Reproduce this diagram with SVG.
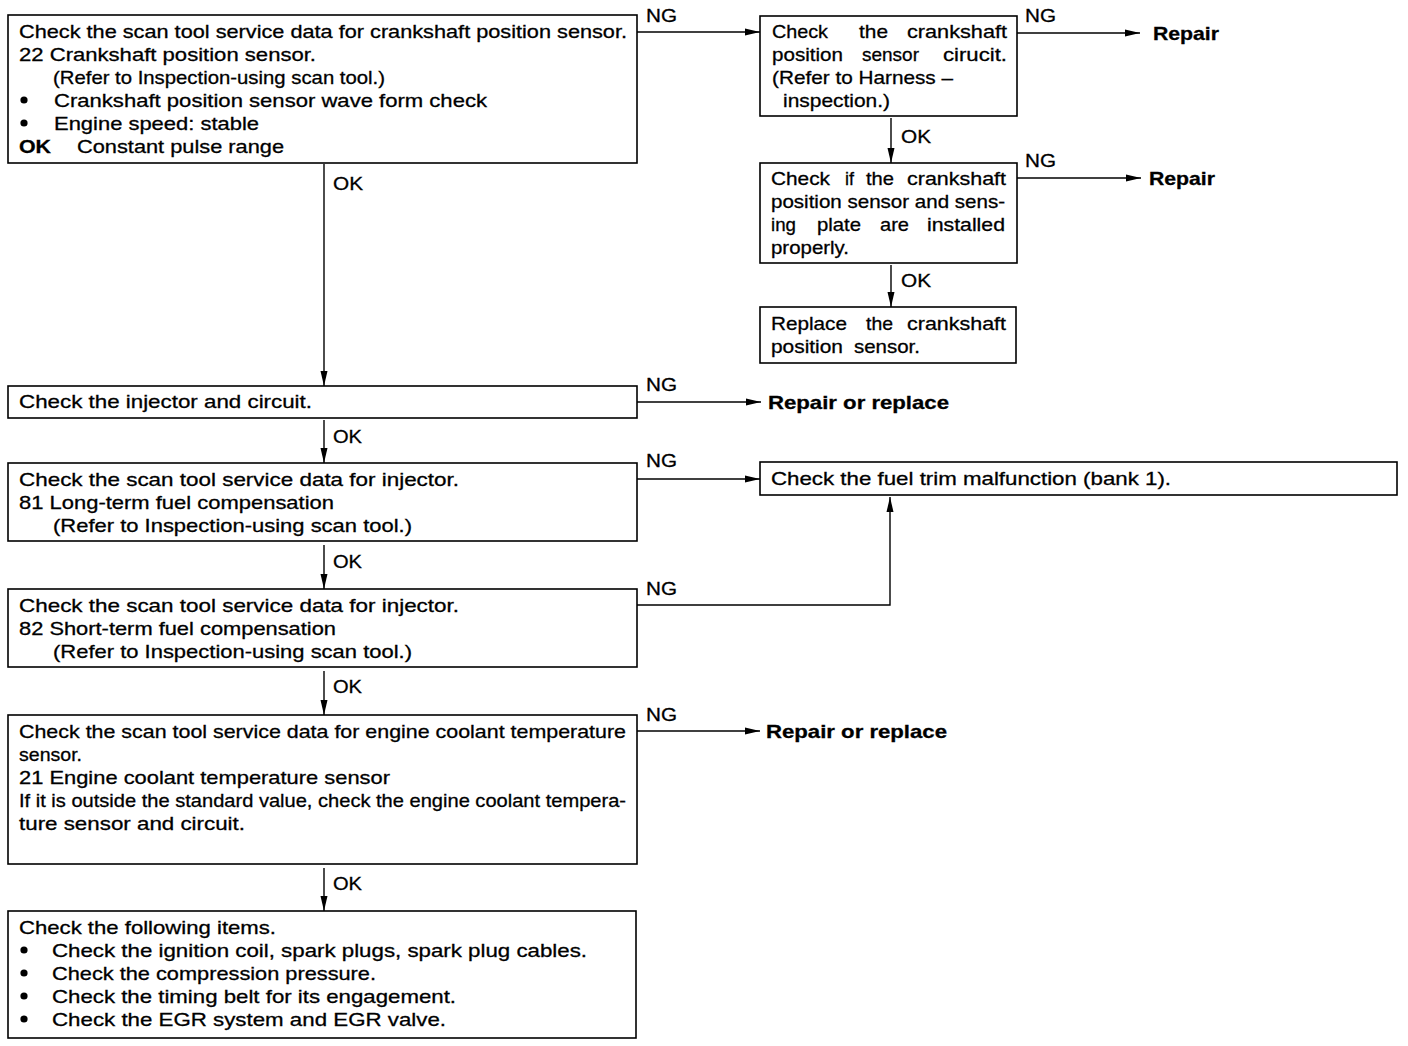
<svg xmlns="http://www.w3.org/2000/svg" width="1408" height="1046" viewBox="0 0 1408 1046">
<defs>
<marker id="ah" markerUnits="userSpaceOnUse" markerWidth="16" markerHeight="8" refX="15" refY="4" orient="auto">
<path d="M0,0.5 L15,4 L0,7.5 Z" fill="#000"/>
</marker>
<style>
rect.box{fill:#fff;stroke:#000;stroke-width:1.6}
text{font-family:"Liberation Sans",Arial,sans-serif;font-size:19px;fill:#000;stroke:#000;stroke-width:0.3}
.b{font-weight:bold}
.c{fill:none;stroke:#000;stroke-width:1.4}
</style>
</defs>
<rect width="1408" height="1046" fill="#fff"/>

<g id="connectors">
<line class="c" x1="637" y1="32" x2="760" y2="32" marker-end="url(#ah)"/>
<line class="c" x1="1017" y1="33" x2="1140" y2="33" marker-end="url(#ah)"/>
<line class="c" x1="891" y1="118" x2="891" y2="163" marker-end="url(#ah)"/>
<line class="c" x1="1017" y1="178" x2="1141" y2="178" marker-end="url(#ah)"/>
<line class="c" x1="891" y1="265" x2="891" y2="307" marker-end="url(#ah)"/>
<line class="c" x1="324" y1="164" x2="324" y2="386" marker-end="url(#ah)"/>
<line class="c" x1="637" y1="402" x2="761" y2="402" marker-end="url(#ah)"/>
<line class="c" x1="324" y1="420" x2="324" y2="463" marker-end="url(#ah)"/>
<line class="c" x1="637" y1="479" x2="760" y2="479" marker-end="url(#ah)"/>
<line class="c" x1="324" y1="545" x2="324" y2="589" marker-end="url(#ah)"/>
<polyline class="c" points="637,605 890,605 890,497" marker-end="url(#ah)"/>
<line class="c" x1="324" y1="671" x2="324" y2="715" marker-end="url(#ah)"/>
<line class="c" x1="637" y1="731" x2="760" y2="731" marker-end="url(#ah)"/>
<line class="c" x1="324" y1="868" x2="324" y2="911" marker-end="url(#ah)"/>
<text x="646" y="22" textLength="31" lengthAdjust="spacingAndGlyphs">NG</text>
<text x="1025" y="22" textLength="31" lengthAdjust="spacingAndGlyphs">NG</text>
<text x="901" y="143" textLength="30" lengthAdjust="spacingAndGlyphs">OK</text>
<text x="1025" y="167" textLength="31" lengthAdjust="spacingAndGlyphs">NG</text>
<text x="901" y="287" textLength="30" lengthAdjust="spacingAndGlyphs">OK</text>
<text x="333" y="190" textLength="30" lengthAdjust="spacingAndGlyphs">OK</text>
<text x="646" y="391" textLength="31" lengthAdjust="spacingAndGlyphs">NG</text>
<text x="333" y="443" textLength="29" lengthAdjust="spacingAndGlyphs">OK</text>
<text x="646" y="467" textLength="31" lengthAdjust="spacingAndGlyphs">NG</text>
<text x="333" y="568" textLength="29" lengthAdjust="spacingAndGlyphs">OK</text>
<text x="646" y="595" textLength="31" lengthAdjust="spacingAndGlyphs">NG</text>
<text x="333" y="693" textLength="29" lengthAdjust="spacingAndGlyphs">OK</text>
<text x="646" y="721" textLength="31" lengthAdjust="spacingAndGlyphs">NG</text>
<text x="333" y="890" textLength="29" lengthAdjust="spacingAndGlyphs">OK</text>
</g>

<g id="n1">
<rect class="box" x="8" y="15" width="629" height="148"/>
<text x="19" y="38" textLength="608" lengthAdjust="spacingAndGlyphs">Check the scan tool service data for crankshaft position sensor.</text>
<text x="19" y="61" textLength="297" lengthAdjust="spacingAndGlyphs">22 Crankshaft position sensor.</text>
<text x="53" y="84" textLength="332" lengthAdjust="spacingAndGlyphs">(Refer to Inspection-using scan tool.)</text>
<circle cx="24" cy="100" r="3.6"/>
<text x="54" y="107" textLength="433" lengthAdjust="spacingAndGlyphs">Crankshaft position sensor wave form check</text>
<circle cx="24" cy="123" r="3.6"/>
<text x="54" y="130" textLength="205" lengthAdjust="spacingAndGlyphs">Engine speed: stable</text>
<text class="b" x="19" y="153" textLength="32" lengthAdjust="spacingAndGlyphs">OK</text>
<text x="77" y="153" textLength="207" lengthAdjust="spacingAndGlyphs">Constant pulse range</text>
</g>

<g id="n2">
<rect class="box" x="760" y="16" width="257" height="100"/>
<text y="38"><tspan x="772" textLength="56" lengthAdjust="spacingAndGlyphs">Check</tspan><tspan x="859" textLength="29" lengthAdjust="spacingAndGlyphs">the</tspan><tspan x="907" textLength="100" lengthAdjust="spacingAndGlyphs">crankshaft</tspan></text>
<text y="61"><tspan x="772" textLength="71" lengthAdjust="spacingAndGlyphs">position</tspan><tspan x="862" textLength="57" lengthAdjust="spacingAndGlyphs">sensor</tspan><tspan x="943" textLength="64" lengthAdjust="spacingAndGlyphs">cirucit.</tspan></text>
<text x="772" y="84" textLength="181" lengthAdjust="spacingAndGlyphs">(Refer to Harness –</text>
<text x="783" y="107" textLength="107" lengthAdjust="spacingAndGlyphs">inspection.)</text>
</g>

<g id="n3">
<rect class="box" x="760" y="163" width="257" height="100"/>
<text y="185"><tspan x="771" textLength="59" lengthAdjust="spacingAndGlyphs">Check</tspan><tspan x="845" textLength="9" lengthAdjust="spacingAndGlyphs">if</tspan><tspan x="866" textLength="28" lengthAdjust="spacingAndGlyphs">the</tspan><tspan x="907" textLength="99" lengthAdjust="spacingAndGlyphs">crankshaft</tspan></text>
<text x="771" y="208" textLength="234" lengthAdjust="spacingAndGlyphs">position sensor and sens-</text>
<text y="231"><tspan x="771" textLength="25" lengthAdjust="spacingAndGlyphs">ing</tspan><tspan x="817" textLength="44" lengthAdjust="spacingAndGlyphs">plate</tspan><tspan x="880" textLength="29" lengthAdjust="spacingAndGlyphs">are</tspan><tspan x="927" textLength="78" lengthAdjust="spacingAndGlyphs">installed</tspan></text>
<text x="771" y="254" textLength="78" lengthAdjust="spacingAndGlyphs">properly.</text>
</g>

<g id="n4">
<rect class="box" x="760" y="307" width="256" height="56"/>
<text y="330"><tspan x="771" textLength="76" lengthAdjust="spacingAndGlyphs">Replace</tspan><tspan x="866" textLength="27" lengthAdjust="spacingAndGlyphs">the</tspan><tspan x="907" textLength="99" lengthAdjust="spacingAndGlyphs">crankshaft</tspan></text>
<text y="353"><tspan x="771" textLength="72" lengthAdjust="spacingAndGlyphs">position</tspan><tspan x="854" textLength="66" lengthAdjust="spacingAndGlyphs">sensor.</tspan></text>
</g>

<g id="r1">
<text class="b" x="1153" y="40" textLength="66" lengthAdjust="spacingAndGlyphs">Repair</text>
</g>
<g id="r2">
<text class="b" x="1149" y="185" textLength="66" lengthAdjust="spacingAndGlyphs">Repair</text>
</g>

<g id="n5">
<rect class="box" x="8" y="386" width="629" height="32"/>
<text x="19" y="408" textLength="293" lengthAdjust="spacingAndGlyphs">Check the injector and circuit.</text>
</g>
<g id="r3">
<text class="b" x="768" y="409" textLength="181" lengthAdjust="spacingAndGlyphs">Repair or replace</text>
</g>

<g id="n6">
<rect class="box" x="8" y="463" width="629" height="78"/>
<text x="19" y="486" textLength="440" lengthAdjust="spacingAndGlyphs">Check the scan tool service data for injector.</text>
<text x="19" y="509" textLength="315" lengthAdjust="spacingAndGlyphs">81 Long-term fuel compensation</text>
<text x="53" y="532" textLength="359" lengthAdjust="spacingAndGlyphs">(Refer to Inspection-using scan tool.)</text>
</g>

<g id="n7">
<rect class="box" x="760" y="462" width="637" height="33"/>
<text x="771" y="485" textLength="400" lengthAdjust="spacingAndGlyphs">Check the fuel trim malfunction (bank 1).</text>
</g>

<g id="n8">
<rect class="box" x="8" y="589" width="629" height="78"/>
<text x="19" y="612" textLength="440" lengthAdjust="spacingAndGlyphs">Check the scan tool service data for injector.</text>
<text x="19" y="635" textLength="317" lengthAdjust="spacingAndGlyphs">82 Short-term fuel compensation</text>
<text x="53" y="658" textLength="359" lengthAdjust="spacingAndGlyphs">(Refer to Inspection-using scan tool.)</text>
</g>

<g id="n9">
<rect class="box" x="8" y="715" width="629" height="149"/>
<text x="19" y="738" textLength="607" lengthAdjust="spacingAndGlyphs">Check the scan tool service data for engine coolant temperature</text>
<text x="19" y="761" textLength="63" lengthAdjust="spacingAndGlyphs">sensor.</text>
<text x="19" y="784" textLength="371" lengthAdjust="spacingAndGlyphs">21 Engine coolant temperature sensor</text>
<text x="19" y="807" textLength="607" lengthAdjust="spacingAndGlyphs">If it is outside the standard value, check the engine coolant tempera-</text>
<text x="19" y="830" textLength="226" lengthAdjust="spacingAndGlyphs">ture sensor and circuit.</text>
</g>
<g id="r4">
<text class="b" x="766" y="738" textLength="181" lengthAdjust="spacingAndGlyphs">Repair or replace</text>
</g>

<g id="n10">
<rect class="box" x="8" y="911" width="628" height="127"/>
<text x="19" y="934" textLength="257" lengthAdjust="spacingAndGlyphs">Check the following items.</text>
<circle cx="24" cy="950" r="3.6"/>
<text x="52" y="957" textLength="535" lengthAdjust="spacingAndGlyphs">Check the ignition coil, spark plugs, spark plug cables.</text>
<circle cx="24" cy="973" r="3.6"/>
<text x="52" y="980" textLength="324" lengthAdjust="spacingAndGlyphs">Check the compression pressure.</text>
<circle cx="24" cy="996" r="3.6"/>
<text x="52" y="1003" textLength="404" lengthAdjust="spacingAndGlyphs">Check the timing belt for its engagement.</text>
<circle cx="24" cy="1019" r="3.6"/>
<text x="52" y="1026" textLength="394" lengthAdjust="spacingAndGlyphs">Check the EGR system and EGR valve.</text>
</g>
</svg>
